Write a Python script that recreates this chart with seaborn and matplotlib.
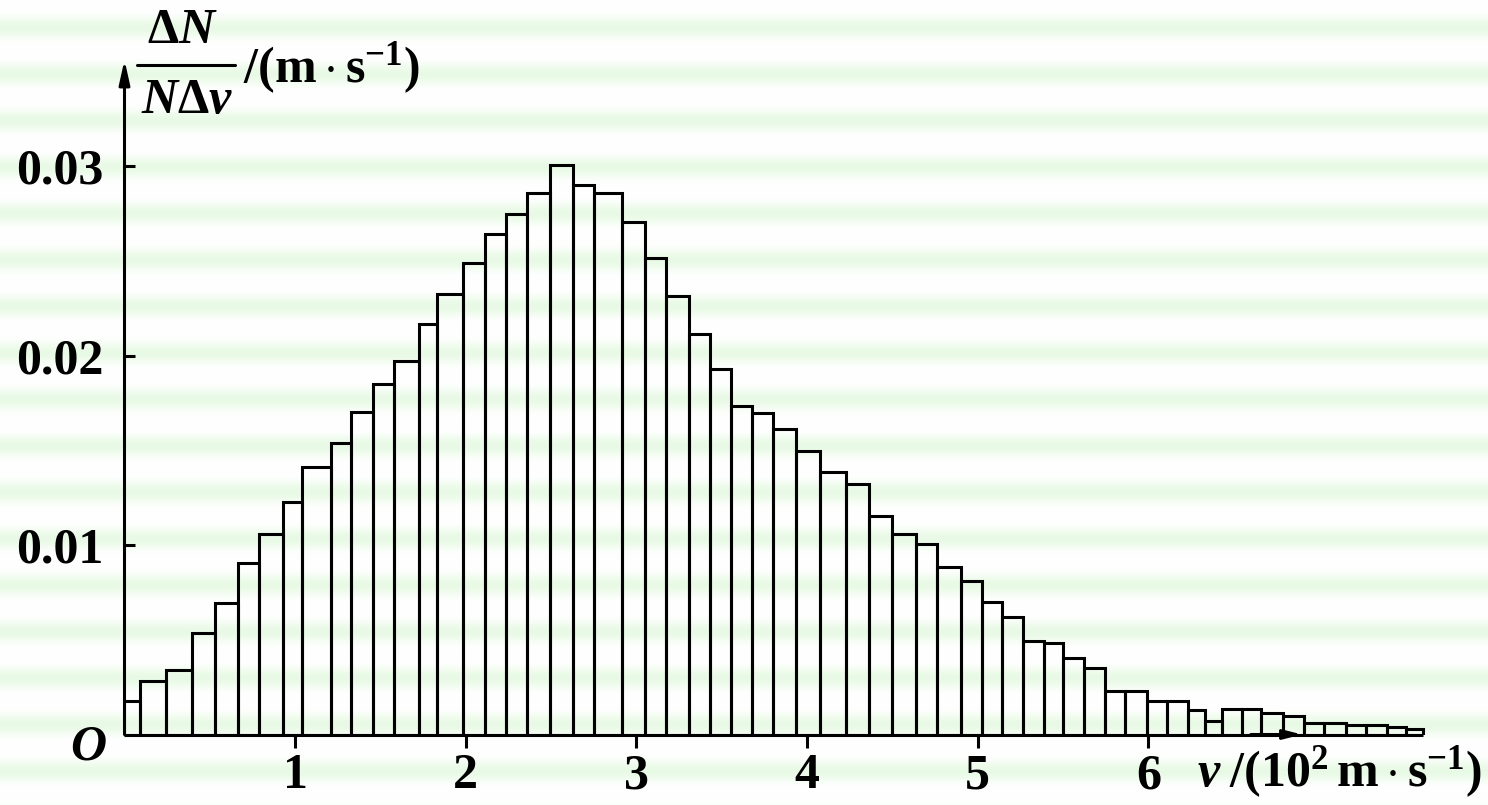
import numpy as np
import matplotlib
matplotlib.use("Agg")
import matplotlib.pyplot as plt
from matplotlib.lines import Line2D
import seaborn as sns

# Speed bin edges, in units of 10^2 m/s
bin_edges = [
    0.000, 0.090, 0.242, 0.395, 0.529, 0.666, 0.789, 0.926, 1.043, 1.209,
    1.330, 1.457, 1.577, 1.727, 1.834, 1.984, 2.113, 2.235, 2.358, 2.492,
    2.629, 2.752, 2.914, 3.051, 3.172, 3.309, 3.430, 3.553, 3.676, 3.801,
    3.937, 4.075, 4.227, 4.363, 4.500, 4.637, 4.758, 4.904, 5.024, 5.144,
    5.266, 5.389, 5.500, 5.623, 5.745, 5.864, 5.994, 6.111, 6.234, 6.332,
    6.428, 6.551, 6.659, 6.791, 6.913, 7.030, 7.157, 7.274, 7.400, 7.508,
    7.606,
]

# Fraction of molecules per unit speed interval, dN/(N dv)
density = [
    0.00178, 0.00284, 0.00340, 0.00537, 0.00696, 0.00903, 0.01060, 0.01229, 0.01413, 0.01537,
    0.01700, 0.01850, 0.01973, 0.02166, 0.02325, 0.02490, 0.02640, 0.02745, 0.02856, 0.03004,
    0.02901, 0.02859, 0.02703, 0.02515, 0.02316, 0.02115, 0.01930, 0.01734, 0.01698, 0.01614,
    0.01496, 0.01387, 0.01322, 0.01153, 0.01058, 0.01004, 0.00882, 0.00812, 0.00701, 0.00622,
    0.00493, 0.00485, 0.00402, 0.00353, 0.00231, 0.00231, 0.00178, 0.00178, 0.00129, 0.00073,
    0.00136, 0.00136, 0.00112, 0.00098, 0.00062, 0.00062, 0.00050, 0.00050, 0.00038, 0.00027,
]

x_ticks = [1, 2, 3, 4, 5, 6]
x_tick_labels = ["1", "2", "3", "4", "5", "6"]
y_ticks = [0.01, 0.02, 0.03]
y_tick_labels = ["0.01", "0.02", "0.03"]

sns.set_style("white")
plt.rcParams.update({
    "font.family": ["Liberation Serif", "DejaVu Serif"],
    "font.weight": "bold",
    "mathtext.fontset": "custom",
    "mathtext.rm": "Liberation Serif:bold",
    "mathtext.it": "Liberation Serif:italic:bold",
    "mathtext.bf": "Liberation Serif:bold",
})

W, H = 1488, 805
FS = 36
LW = 2.2
fig = plt.figure(figsize=(W / 100, H / 100), dpi=100)
fig.patch.set_facecolor("white")

# Soft pale-green horizontal banding behind the whole figure
bg = fig.add_axes([0, 0, 1, 1], zorder=0)
rows = np.arange(H)
p = ((1 + np.cos(2 * np.pi * (rows - 28) / 46.4)) / 2) ** 2
green = np.array([232, 250, 229]) / 255.0
col = (1 - p)[:, None] * np.ones(3) + p[:, None] * green
img = np.repeat(col[:, None, :], 2, axis=1)
bg.imshow(img, aspect="auto", extent=[0, 1, 0, 1], interpolation="bilinear")
bg.set_axis_off()

# Main axes: origin at (124.5 px, 734.5 px from top)
px_x, px_y = 170.66, 18950.0
x0, y0 = 124.5, 734.5
xmax, ymax = 8.0, 0.0376
ax = fig.add_axes([x0 / W, (H - y0) / H, xmax * px_x / W, ymax * px_y / H], zorder=1)
ax.set_facecolor("none")

centers = [(a + b) / 2 for a, b in zip(bin_edges[:-1], bin_edges[1:])]
sns.histplot(x=centers, weights=density, bins=bin_edges, fill=False,
             color="black", linewidth=LW, ax=ax)

ax.set_xlim(0, xmax)
ax.set_ylim(0, ymax)
ax.set_xlabel("")
ax.set_ylabel("")
for s in ax.spines.values():
    s.set_visible(False)

ax.set_xticks(x_ticks, x_tick_labels)
ax.set_yticks(y_ticks, y_tick_labels)
ax.tick_params(axis="x", direction="out", length=9.5, width=LW, pad=4,
               labelsize=FS, bottom=True, colors="black")
ax.tick_params(axis="y", direction="in", length=8, width=LW, pad=15,
               labelsize=FS, left=True, colors="black")

# Axis lines with arrowheads
ax.annotate("", xy=(0, 0.0356), xytext=(0, 0), xycoords="data",
            arrowprops=dict(arrowstyle="-|>,head_length=0.72,head_width=0.16",
                            lw=LW, color="black", shrinkA=0, shrinkB=0,
                            mutation_scale=20), annotation_clip=False)
ax.plot([0, bin_edges[-1]], [0, 0], color="black", lw=LW, clip_on=False,
        solid_capstyle="butt")
ax.annotate("", xy=(6.90, 0), xytext=(6.60, 0), xycoords="data",
            arrowprops=dict(arrowstyle="-|>,head_length=0.55,head_width=0.14",
                            lw=LW, color="black", shrinkA=0, shrinkB=0,
                            mutation_scale=20), annotation_clip=False)


def ftxt(x, y, s, **kw):
    fig.text(x / W, 1 - y / H, s, fontsize=FS, color="black", **kw)


# Origin label
ftxt(88, 747, "O", ha="center", va="center", style="italic", weight="bold")

# y-axis quantity as a fraction with its unit
ftxt(182, 31, r"$\Delta N$", ha="center", va="center")
fig.add_artist(Line2D([137 / W, 235 / W], [1 - 65 / H, 1 - 65 / H],
                      lw=LW, color="black"))
ftxt(187, 101, r"$N\Delta v$", ha="center", va="center")
ftxt(243, 68, r"$\mathrm{/(m\cdot s}^{-1}\mathrm{)}$", ha="left", va="center")

# x-axis quantity with its unit
ftxt(1482, 772, r"$v\;\mathrm{/(10}^{2}\,\mathrm{m\cdot s}^{-1}\mathrm{)}$",
     ha="right", va="center")

fig.savefig("out.png", dpi=100, facecolor="white")
